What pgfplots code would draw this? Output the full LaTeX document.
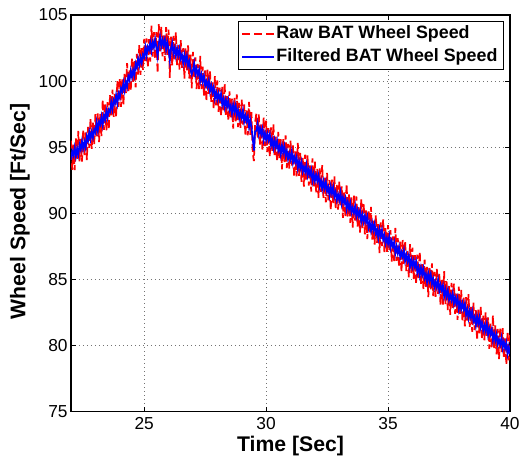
\documentclass[border=0pt]{standalone}
\usepackage{pgfplots}
\pgfplotsset{compat=1.18}
\usepackage{fontspec}
\setmainfont{Liberation Sans}
\begin{document}
\begin{tikzpicture}
\useasboundingbox (-53.25pt,-36.2pt) rectangle (336pt,308.75pt);
\begin{axis}[
  at={(0pt,0pt)}, anchor=south west,
  scale only axis,
  width=329.25pt, height=297.5pt,
  xmin=22, xmax=40, ymin=75, ymax=105,
  xtick={25,30,35,40}, ytick={75,80,85,90,95,100,105},
  grid=major,
  grid style={black!55, line width=0.5pt, dash pattern=on 0.6pt off 2.4pt},
  axis line style={black, line width=0.8pt},
  tick style={black, line width=0.6pt},
  major tick length=3.5pt,
  tick align=inside,
  xtick pos=both, ytick pos=both,
  /pgf/number format/assume math mode=true,
  tick label style={font=\fontsize{13}{13}\selectfont},
  yticklabel style={xshift=1pt},
  xticklabel style={yshift=-1.1pt},
  xlabel={Time [Sec]},
  ylabel={Wheel Speed [Ft/Sec]},
  label style={font=\fontsize{15.9}{16}\selectfont\bfseries},
  xlabel style={at={(axis description cs:0.5,-0.0865)}, anchor=center},
  ylabel style={at={(axis description cs:-0.1162,0.505)}, anchor=center, rotate=0},
  legend style={at={(0.9863,0.9849)}, anchor=north east, draw=black, line width=0.8pt,
    font=\fontsize{13.4}{14}\selectfont\bfseries, inner xsep=3pt, inner ysep=0.8pt,
    nodes={inner xsep=1.5pt, inner ysep=2.3pt, text depth=2.8pt, text height=9.8pt}},
  legend cell align=left,
]
\addplot[red, line width=1.3pt, dash pattern=on 6pt off 2.5pt,
  legend image code/.code={\path[fill=red, draw=none] (0pt,-0.6pt) rectangle (5.5pt,0.6pt);
    \path[fill=red, draw=none] (9pt,-0.6pt) rectangle (14.5pt,0.6pt);
    \path[fill=red, draw=none] (18pt,-0.6pt) rectangle (23.5pt,0.6pt);}] coordinates {
(22.00,95.50)(22.05,93.29)(22.10,95.28)(22.15,93.27)(22.20,95.66)(22.25,94.05)(22.30,96.24)(22.35,93.93)(22.40,95.62)(22.45,93.91)
(22.50,96.30)(22.55,94.41)(22.60,96.12)(22.65,94.03)(22.70,96.54)(22.75,94.95)(22.80,97.16)(22.85,94.87)(22.90,96.88)(22.95,95.19)
(23.00,97.50)(23.05,95.83)(23.10,97.56)(23.15,95.39)(23.20,97.52)(23.25,95.85)(23.30,98.58)(23.35,96.31)(23.40,98.24)(23.45,96.27)
(23.50,98.40)(23.55,96.34)(23.60,98.98)(23.65,97.32)(23.70,99.36)(23.75,97.30)(23.80,99.04)(23.85,97.28)(23.90,100.02)(23.95,98.06)
(24.00,100.20)(24.05,98.06)(24.10,100.12)(24.15,98.18)(24.20,100.64)(24.25,99.10)(24.30,101.36)(24.35,99.12)(24.40,100.88)(24.45,99.24)
(24.50,101.70)(24.55,99.84)(24.60,101.58)(24.65,99.52)(24.70,102.06)(24.75,100.50)(24.80,102.74)(24.85,100.48)(24.90,102.52)(24.95,100.86)
(25.00,103.20)(25.05,101.52)(25.10,103.23)(25.15,101.05)(25.20,103.17)(25.25,101.48)(25.30,104.20)(25.35,101.85)(25.40,103.70)(25.45,101.65)
(25.50,103.70)(25.55,100.60)(25.60,104.30)(25.65,102.26)(25.70,104.12)(25.75,101.88)(25.80,103.45)(25.85,101.51)(25.90,104.08)(25.95,101.94)
(26.00,103.90)(26.05,100.25)(26.10,103.36)(26.15,101.19)(26.20,103.42)(26.25,101.65)(26.30,103.68)(26.35,101.21)(26.40,102.74)(26.45,100.87)
(26.50,103.10)(26.55,101.00)(26.60,102.50)(26.65,100.20)(26.70,102.50)(26.75,100.70)(26.80,102.70)(26.85,100.20)(26.90,102.00)(26.95,99.45)
(27.00,102.20)(27.05,100.30)(27.10,101.80)(27.15,99.40)(27.20,101.30)(27.25,99.40)(27.30,101.90)(27.35,99.40)(27.40,101.10)(27.45,98.90)
(27.50,100.80)(27.55,98.49)(27.60,100.87)(27.65,98.96)(27.70,100.74)(27.75,98.43)(27.80,99.91)(27.85,97.90)(27.90,100.38)(27.95,98.17)
(28.00,100.05)(28.05,97.68)(28.10,99.51)(28.15,97.33)(28.20,99.56)(28.25,97.79)(28.30,99.82)(28.35,97.34)(28.40,98.87)(28.45,97.00)
(28.50,99.23)(28.55,97.15)(28.60,98.68)(28.65,96.41)(28.70,98.74)(28.75,96.96)(28.80,98.99)(28.85,96.52)(28.90,98.35)(28.95,96.47)
(29.00,98.60)(29.05,96.72)(29.10,98.24)(29.15,95.86)(29.20,97.78)(29.25,95.90)(29.30,98.42)(29.35,95.94)(29.40,97.66)(29.45,94.60)
(29.50,93.95)(29.55,96.90)(29.60,97.54)(29.65,95.66)(29.70,97.48)(29.75,95.20)(29.80,96.72)(29.85,94.74)(29.90,97.26)(29.95,95.08)
(30.00,97.00)(30.05,94.63)(30.10,96.45)(30.15,94.28)(30.20,96.50)(30.25,94.73)(30.30,96.75)(30.35,94.28)(30.40,95.80)(30.45,93.93)
(30.50,96.15)(30.55,94.08)(30.60,95.60)(30.65,93.33)(30.70,95.65)(30.75,93.88)(30.80,95.90)(30.85,93.43)(30.90,95.25)(30.95,93.38)
(31.00,95.50)(31.05,93.62)(31.10,95.14)(31.15,92.76)(31.20,94.68)(31.25,92.80)(31.30,95.32)(31.35,92.84)(31.40,94.56)(31.45,92.38)
(31.50,94.30)(31.55,92.02)(31.60,94.44)(31.65,92.56)(31.70,94.38)(31.75,92.10)(31.80,93.62)(31.85,91.64)(31.90,94.16)(31.95,91.98)
(32.00,93.90)(32.05,91.53)(32.10,93.35)(32.15,91.18)(32.20,93.40)(32.25,91.63)(32.30,93.65)(32.35,91.18)(32.40,92.70)(32.45,90.83)
(32.50,93.05)(32.55,90.98)(32.60,92.50)(32.65,90.23)(32.70,92.55)(32.75,90.78)(32.80,92.80)(32.85,90.33)(32.90,92.15)(32.95,90.28)
(33.00,92.40)(33.05,90.52)(33.10,92.04)(33.15,89.66)(33.20,91.58)(33.25,89.70)(33.30,92.22)(33.35,89.74)(33.40,91.46)(33.45,89.28)
(33.50,91.20)(33.55,88.92)(33.60,91.34)(33.65,89.46)(33.70,91.28)(33.75,89.00)(33.80,90.52)(33.85,88.54)(33.90,91.06)(33.95,88.88)
(34.00,90.80)(34.05,88.42)(34.10,90.23)(34.15,88.05)(34.20,90.26)(34.25,88.48)(34.30,90.49)(34.35,88.01)(34.40,89.52)(34.45,87.64)
(34.50,89.85)(34.55,87.77)(34.60,89.28)(34.65,87.00)(34.70,89.31)(34.75,87.53)(34.80,89.54)(34.85,87.06)(34.90,88.87)(34.95,86.99)
(35.00,89.10)(35.05,87.22)(35.10,88.73)(35.15,86.35)(35.20,88.26)(35.25,86.38)(35.30,88.89)(35.35,86.41)(35.40,88.12)(35.45,85.94)
(35.50,87.85)(35.55,85.57)(35.60,87.98)(35.65,86.10)(35.70,87.91)(35.75,85.63)(35.80,87.14)(35.85,85.16)(35.90,87.67)(35.95,85.49)
(36.00,87.40)(36.05,85.02)(36.10,86.84)(36.15,84.66)(36.20,86.88)(36.25,85.10)(36.30,87.12)(36.35,84.64)(36.40,86.16)(36.45,84.28)
(36.50,86.50)(36.55,84.42)(36.60,85.94)(36.65,83.66)(36.70,85.98)(36.75,84.20)(36.80,86.22)(36.85,83.74)(36.90,85.56)(36.95,83.68)
(37.00,85.80)(37.05,83.92)(37.10,85.44)(37.15,83.06)(37.20,84.98)(37.25,83.10)(37.30,85.62)(37.35,83.14)(37.40,84.86)(37.45,82.68)
(37.50,84.60)(37.55,82.32)(37.60,84.74)(37.65,82.86)(37.70,84.68)(37.75,82.40)(37.80,83.92)(37.85,81.94)(37.90,84.46)(37.95,82.28)
(38.00,84.20)(38.05,81.82)(38.10,83.63)(38.15,81.45)(38.20,83.66)(38.25,81.88)(38.30,83.89)(38.35,81.41)(38.40,82.92)(38.45,81.04)
(38.50,83.25)(38.55,81.17)(38.60,82.68)(38.65,80.40)(38.70,82.71)(38.75,80.93)(38.80,82.94)(38.85,80.46)(38.90,82.27)(38.95,80.39)
(39.00,82.50)(39.05,80.62)(39.10,82.13)(39.15,79.75)(39.20,81.66)(39.25,79.78)(39.30,82.29)(39.35,79.81)(39.40,81.52)(39.45,79.34)
(39.50,81.25)(39.55,78.97)(39.60,81.38)(39.65,79.50)(39.70,81.31)(39.75,79.03)(39.80,80.54)(39.85,78.56)(39.90,81.07)(39.95,78.89)
(40.00,80.80)
};
\addlegendentry{Raw BAT Wheel Speed}
\addplot[blue, line width=1.3pt,
  legend image code/.code={\path[fill=blue, draw=none] (0pt,-0.6pt) rectangle (24pt,0.6pt);}] coordinates {
(22.00,94.05)(22.05,94.69)(22.10,94.38)(22.15,94.97)(22.20,94.31)(22.25,94.90)(22.30,94.44)(22.35,95.18)(22.40,94.82)(22.45,95.46)
(22.50,94.90)(22.55,95.41)(22.60,94.97)(22.65,95.83)(22.70,95.49)(22.75,96.15)(22.80,95.61)(22.85,96.17)(22.90,95.73)(22.95,96.34)
(23.00,96.10)(23.05,96.88)(23.10,96.26)(23.15,96.94)(23.20,96.72)(23.25,97.30)(23.30,96.68)(23.35,97.41)(23.40,97.09)(23.45,97.77)
(23.50,97.25)(23.55,97.84)(23.60,97.68)(23.65,98.42)(23.70,97.86)(23.75,98.55)(23.80,98.29)(23.85,98.93)(23.90,98.32)(23.95,99.06)
(24.00,98.75)(24.05,99.46)(24.10,99.22)(24.15,99.88)(24.20,99.29)(24.25,99.95)(24.30,99.56)(24.35,100.37)(24.40,100.08)(24.45,100.79)
(24.50,100.30)(24.55,100.84)(24.60,100.43)(24.65,101.32)(24.70,101.01)(24.75,101.70)(24.80,101.19)(24.85,101.78)(24.90,101.37)(24.95,102.01)
(25.00,101.80)(25.05,102.57)(25.10,101.93)(25.15,102.60)(25.20,102.37)(25.25,102.93)(25.30,102.30)(25.35,102.95)(25.40,102.55)(25.45,103.15)
(25.50,102.55)(25.55,101.90)(25.60,102.80)(25.65,103.36)(25.70,102.62)(25.75,103.13)(25.80,102.70)(25.85,103.16)(25.90,102.38)(25.95,102.94)
(26.00,102.45)(26.05,101.60)(26.10,102.46)(26.15,102.89)(26.20,102.07)(26.25,102.50)(26.30,101.88)(26.35,102.46)(26.40,101.94)(26.45,102.42)
(26.50,101.70)(26.55,102.00)(26.60,101.35)(26.65,102.00)(26.70,101.45)(26.75,101.90)(26.80,101.15)(26.85,101.50)(26.90,100.85)(26.95,100.50)
(27.00,100.80)(27.05,101.35)(27.10,100.50)(27.15,100.95)(27.20,100.50)(27.25,100.85)(27.30,100.00)(27.35,100.50)(27.40,99.95)(27.45,100.40)
(27.50,99.65)(27.55,99.99)(27.60,99.57)(27.65,100.06)(27.70,99.24)(27.75,99.68)(27.80,99.16)(27.85,99.55)(27.90,98.68)(27.95,99.17)
(28.00,98.60)(28.05,99.08)(28.10,98.61)(28.15,99.03)(28.20,98.21)(28.25,98.64)(28.30,98.02)(28.35,98.59)(28.40,98.07)(28.45,98.55)
(28.50,97.83)(28.55,98.15)(28.60,97.53)(28.65,98.21)(28.70,97.69)(28.75,98.16)(28.80,97.44)(28.85,97.82)(28.90,97.20)(28.95,97.62)
(29.00,97.20)(29.05,97.77)(29.10,96.94)(29.15,97.41)(29.20,96.98)(29.25,97.35)(29.30,96.52)(29.35,97.04)(29.40,96.51)(29.45,95.70)
(29.50,94.75)(29.55,96.20)(29.60,96.24)(29.65,96.76)(29.70,95.98)(29.75,96.45)(29.80,95.97)(29.85,96.39)(29.90,95.56)(29.95,96.08)
(30.00,95.55)(30.05,96.03)(30.10,95.55)(30.15,95.98)(30.20,95.15)(30.25,95.58)(30.30,94.95)(30.35,95.53)(30.40,95.00)(30.45,95.48)
(30.50,94.75)(30.55,95.08)(30.60,94.45)(30.65,95.13)(30.70,94.60)(30.75,95.08)(30.80,94.35)(30.85,94.73)(30.90,94.10)(30.95,94.53)
(31.00,94.10)(31.05,94.67)(31.10,93.84)(31.15,94.31)(31.20,93.88)(31.25,94.25)(31.30,93.42)(31.35,93.94)(31.40,93.41)(31.45,93.88)
(31.50,93.15)(31.55,93.52)(31.60,93.14)(31.65,93.66)(31.70,92.88)(31.75,93.35)(31.80,92.87)(31.85,93.29)(31.90,92.46)(31.95,92.98)
(32.00,92.45)(32.05,92.93)(32.10,92.45)(32.15,92.88)(32.20,92.05)(32.25,92.48)(32.30,91.85)(32.35,92.43)(32.40,91.90)(32.45,92.38)
(32.50,91.65)(32.55,91.98)(32.60,91.35)(32.65,92.03)(32.70,91.50)(32.75,91.98)(32.80,91.25)(32.85,91.63)(32.90,91.00)(32.95,91.43)
(33.00,91.00)(33.05,91.57)(33.10,90.74)(33.15,91.21)(33.20,90.78)(33.25,91.15)(33.30,90.32)(33.35,90.84)(33.40,90.31)(33.45,90.78)
(33.50,90.05)(33.55,90.42)(33.60,90.04)(33.65,90.56)(33.70,89.78)(33.75,90.25)(33.80,89.77)(33.85,90.19)(33.90,89.36)(33.95,89.88)
(34.00,89.35)(34.05,89.82)(34.10,89.33)(34.15,89.75)(34.20,88.91)(34.25,89.33)(34.30,88.69)(34.35,89.26)(34.40,88.72)(34.45,89.19)
(34.50,88.45)(34.55,88.77)(34.60,88.13)(34.65,88.80)(34.70,88.26)(34.75,88.73)(34.80,87.99)(34.85,88.36)(34.90,87.72)(34.95,88.14)
(35.00,87.70)(35.05,88.27)(35.10,87.43)(35.15,87.90)(35.20,87.46)(35.25,87.83)(35.30,86.99)(35.35,87.51)(35.40,86.97)(35.45,87.44)
(35.50,86.70)(35.55,87.07)(35.60,86.68)(35.65,87.20)(35.70,86.41)(35.75,86.88)(35.80,86.39)(35.85,86.81)(35.90,85.97)(35.95,86.49)
(36.00,85.95)(36.05,86.42)(36.10,85.94)(36.15,86.36)(36.20,85.53)(36.25,85.95)(36.30,85.32)(36.35,85.89)(36.40,85.36)(36.45,85.83)
(36.50,85.10)(36.55,85.42)(36.60,84.79)(36.65,85.46)(36.70,84.93)(36.75,85.40)(36.80,84.67)(36.85,85.04)(36.90,84.41)(36.95,84.83)
(37.00,84.40)(37.05,84.97)(37.10,84.14)(37.15,84.61)(37.20,84.18)(37.25,84.55)(37.30,83.72)(37.35,84.24)(37.40,83.71)(37.45,84.18)
(37.50,83.45)(37.55,83.82)(37.60,83.44)(37.65,83.96)(37.70,83.18)(37.75,83.65)(37.80,83.17)(37.85,83.59)(37.90,82.76)(37.95,83.28)
(38.00,82.75)(38.05,83.22)(38.10,82.73)(38.15,83.15)(38.20,82.31)(38.25,82.73)(38.30,82.09)(38.35,82.66)(38.40,82.12)(38.45,82.59)
(38.50,81.85)(38.55,82.17)(38.60,81.53)(38.65,82.20)(38.70,81.66)(38.75,82.13)(38.80,81.39)(38.85,81.76)(38.90,81.12)(38.95,81.54)
(39.00,81.10)(39.05,81.67)(39.10,80.83)(39.15,81.30)(39.20,80.86)(39.25,81.23)(39.30,80.39)(39.35,80.91)(39.40,80.37)(39.45,80.84)
(39.50,80.10)(39.55,80.47)(39.60,80.08)(39.65,80.60)(39.70,79.81)(39.75,80.28)(39.80,79.79)(39.85,80.21)(39.90,79.37)(39.95,79.89)
(40.00,79.35)
};
\addlegendentry{Filtered BAT Wheel Speed}
\end{axis}
\end{tikzpicture}
\end{document}
